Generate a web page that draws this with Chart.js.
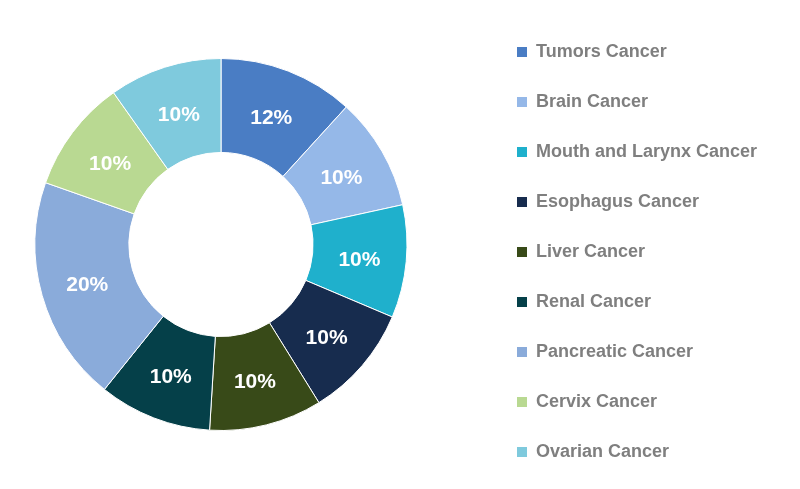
<!DOCTYPE html>
<html>
<head>
<meta charset="utf-8">
<script src="https://cdn.jsdelivr.net/npm/chart.js@4.4.1/dist/chart.umd.min.js"></script>
<style>
  html, body { margin: 0; padding: 0; background: #ffffff; }
  #wrap { width: 800px; height: 489px; }
</style>
</head>
<body>
<div id="wrap"><canvas id="c"></canvas></div>
<script>
const categories = [
  'Tumors Cancer', 'Brain Cancer', 'Mouth and Larynx Cancer', 'Esophagus Cancer',
  'Liver Cancer', 'Renal Cancer', 'Pancreatic Cancer', 'Cervix Cancer', 'Ovarian Cancer'
];
const shares = [12, 10, 10, 10, 10, 10, 20, 10, 10];
const sliceColors = [
  '#4A7DC4', '#95B8E8', '#1FB0CC', '#172C4E', '#384A18',
  '#054049', '#8AABDA', '#B9D992', '#7FCADD'
];

const legendFont = { family: '"Liberation Sans", Arial, sans-serif', size: 18, weight: 'bold' };
const legendPad = 32;
const legendBox = 10;

// layout: doughnut centred at x=221, legend swatches starting at x=517
const ringCenterX = 221;
const swatchLeft = 517;
const mctx = document.createElement('canvas').getContext('2d');
mctx.font = 'bold 18px "Liberation Sans", Arial, sans-serif';
const maxText = Math.max(...categories.map(t => mctx.measureText(t).width));
const legendW = legendPad + legendBox + legendFont.size / 2 + maxText + 10;
const legendLeft = swatchLeft - legendPad;
const chartRight = 2 * ringCenterX;
const spacerW = legendLeft - chartRight;
const padRight = Math.max(800 - legendLeft - legendW, 0);

const gapBox = {
  id: 'gapBox',
  beforeInit(chart) {
    Chart.layouts.addBox(chart, {
      position: 'right',
      weight: 0,
      fullSize: false,
      options: { display: false },
      width: 0,
      height: 0,
      left: 0, right: 0, top: 0, bottom: 0,
      isHorizontal() { return false; },
      update(maxWidth, maxHeight) { this.width = spacerW; this.height = maxHeight; },
      draw() {}
    });
  }
};

const sliceLabels = {
  id: 'sliceLabels',
  afterDatasetsDraw(chart) {
    const ctx = chart.ctx;
    const meta = chart.getDatasetMeta(0);
    ctx.save();
    ctx.font = 'bold 21px "Liberation Sans", Arial, sans-serif';
    ctx.fillStyle = '#ffffff';
    ctx.textAlign = 'center';
    ctx.textBaseline = 'middle';
    meta.data.forEach((arc, i) => {
      const p = arc.tooltipPosition();
      ctx.fillText(shares[i] + '%', p.x, p.y + 3);
    });
    ctx.restore();
  }
};

new Chart(document.getElementById('c'), {
  type: 'doughnut',
  data: {
    labels: categories,
    datasets: [{
      data: shares,
      backgroundColor: sliceColors,
      borderColor: '#ffffff',
      borderWidth: 1,
      radius: 186,
      cutout: '49.5%'
    }]
  },
  options: {
    responsive: true,
    maintainAspectRatio: false,
    animation: false,
    layout: { padding: { left: 0, right: padRight, top: -3, bottom: -4 } },
    plugins: {
      tooltip: { enabled: false },
      legend: {
        position: 'right',
        align: 'end',
        labels: {
          boxWidth: legendBox,
          boxHeight: legendBox,
          padding: legendPad,
          color: '#7F7F7F',
          font: legendFont,
          generateLabels(chart) {
            const base = Chart.overrides.doughnut.plugins.legend.labels.generateLabels(chart);
            return base.map(item => Object.assign(item, {
              lineWidth: 0,
              strokeStyle: item.fillStyle
            }));
          }
        }
      }
    }
  },
  plugins: [gapBox, sliceLabels]
});
</script>
</body>
</html>
